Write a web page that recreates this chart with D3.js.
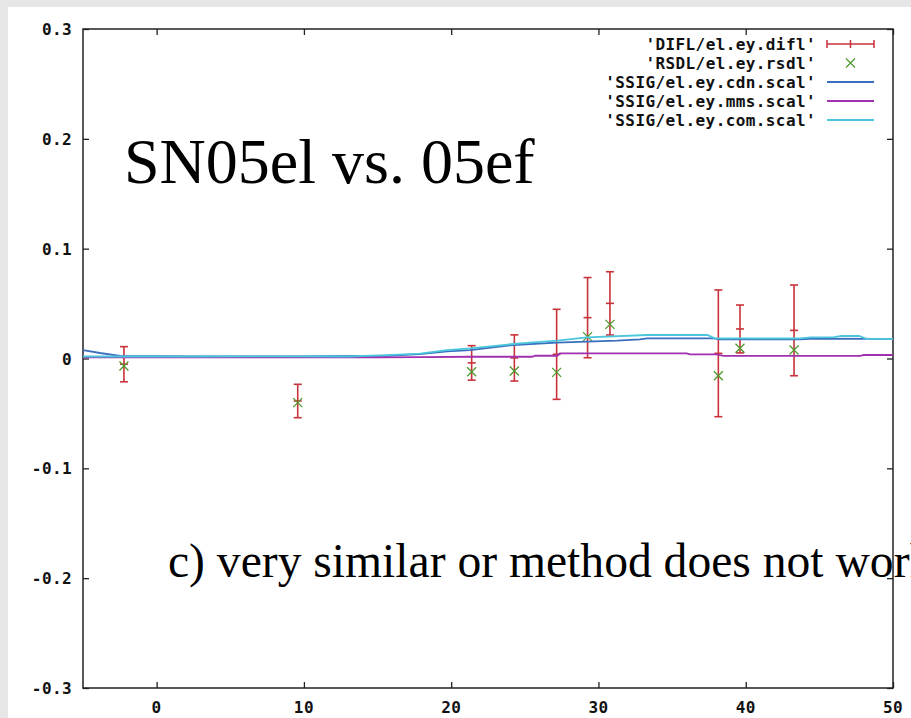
<!DOCTYPE html>
<html>
<head>
<meta charset="utf-8">
<script src="https://cdn.jsdelivr.net/npm/d3@7"></script>
<style>
  html, body { margin: 0; padding: 0; background: #e6e6e6; overflow: hidden; }
  svg { display: block; }
  .mono { font-family: "DejaVu Sans Mono", "Liberation Mono", monospace; font-weight: bold; font-size: 16px; letter-spacing: 0.4px; fill: #111; }
  .serif { font-family: "Liberation Serif", "DejaVu Serif", serif; fill: #000; }
</style>
</head>
<body>
<svg id="chart" width="911" height="718"></svg>
<script>
// Axis ticks
const xTicks = [0, 10, 20, 30, 40, 50];
const yTicks = [-0.3, -0.2, -0.1, 0, 0.1, 0.2, 0.3];

// DIFL: values with symmetric error half-widths
const diflX = [-2.22, 9.58, 21.39, 24.29, 27.16, 29.26, 30.78, 38.14, 39.61, 43.28];
const diflY = [-0.0052, -0.0387, -0.0040, 0.0005, 0.0038, 0.0372, 0.0502, 0.0047, 0.0269, 0.0256];
const diflErr = [0.0160, 0.0152, 0.0157, 0.0210, 0.0410, 0.0365, 0.0288, 0.0577, 0.0218, 0.0413];

// RSDL points
const rsdlX = diflX;
const rsdlY = [-0.0068, -0.0402, -0.0120, -0.0114, -0.0126, 0.0199, 0.0311, -0.0157, 0.0093, 0.0077];

// SSIG curves
const cdnX = [-5, -3.85, -2.49, 2.94, 9.73, 15.64, 17.88, 19.72, 21.28, 24.2, 27.19, 29.22, 31.26, 32.82, 33.3, 37.78, 38.25, 43.69, 44.37, 50];
const cdnY = [0.0077, 0.0050, 0.0023, 0.0018, 0.0018, 0.0025, 0.0040, 0.0065, 0.0077, 0.0123, 0.0144, 0.0153, 0.0162, 0.0175, 0.0184, 0.0184, 0.0175, 0.0175, 0.0180, 0.0178];

const mmsX = [-5, 15, 18, 21.28, 25.5, 25.7, 27.2, 27.4, 36.0, 36.2, 38.0, 38.5, 47.8, 48.0, 50];
const mmsY = [0.0010, 0.0010, 0.0013, 0.0016, 0.0016, 0.0025, 0.0025, 0.0047, 0.0047, 0.0038, 0.0038, 0.0023, 0.0023, 0.0032, 0.0032];

const comX = [-5, 2.94, 8.4, 13, 15.64, 17.88, 19.72, 21.28, 24.2, 25.36, 27.19, 29.22, 33.3, 37.4, 37.9, 43.69, 44.4, 46.0, 46.5, 47.7, 48.2, 50];
const comY = [0.0018, 0.0018, 0.0020, 0.0018, 0.0030, 0.0045, 0.0077, 0.0093, 0.0132, 0.0144, 0.0162, 0.0193, 0.0214, 0.0214, 0.0184, 0.0184, 0.0193, 0.0195, 0.0205, 0.0205, 0.0178, 0.0178];

const legendLabels = ["'DIFL/el.ey.difl'", "'RSDL/el.ey.rsdl'", "'SSIG/el.ey.cdn.scal'", "'SSIG/el.ey.mms.scal'", "'SSIG/el.ey.com.scal'"];
const colors = { difl: "#c8323a", rsdl: "#4e9a2e", cdn: "#3a6fbe", mms: "#a030b0", com: "#4cc6dc" };

const svg = d3.select("#chart");
const W = 911, H = 718;
const plot = { left: 83, right: 893, top: 29, bottom: 688 };

// page frame
svg.append("rect").attr("x", 8).attr("y", 7).attr("width", W - 8).attr("height", H - 7).attr("fill", "#fff");

const x = d3.scaleLinear().domain([-5, 50]).range([plot.left, plot.right]);
const y = d3.scaleLinear().domain([-0.3, 0.3]).range([plot.bottom, plot.top]);

svg.append("clipPath").attr("id", "plotclip").append("rect")
  .attr("x", plot.left).attr("y", plot.top)
  .attr("width", plot.right - plot.left).attr("height", plot.bottom - plot.top);

// inward ticks on all four sides
const tl = 6;
const axisStyle = g => {
  g.select(".domain").remove();
  g.selectAll(".tick line").attr("stroke", "#222").attr("stroke-width", 1.3);
  g.selectAll(".tick text").remove();
};
svg.append("g").attr("transform", `translate(0,${plot.bottom})`)
  .call(d3.axisBottom(x).tickValues(xTicks).tickSizeInner(-tl).tickSizeOuter(0)).call(axisStyle);
svg.append("g").attr("transform", `translate(0,${plot.top})`)
  .call(d3.axisTop(x).tickValues(xTicks).tickSizeInner(-tl).tickSizeOuter(0)).call(axisStyle);
svg.append("g").attr("transform", `translate(${plot.left},0)`)
  .call(d3.axisLeft(y).tickValues(yTicks).tickSizeInner(-tl).tickSizeOuter(0)).call(axisStyle);
svg.append("g").attr("transform", `translate(${plot.right},0)`)
  .call(d3.axisRight(y).tickValues(yTicks).tickSizeInner(-tl).tickSizeOuter(0)).call(axisStyle);

// tick labels (plain number formatting with ASCII minus)
const plain = d => String(+d.toFixed(1));
svg.selectAll("text.xl").data(xTicks).enter().append("text")
  .attr("class", "mono xl").attr("x", d => x(d)).attr("y", plot.bottom + 25)
  .attr("text-anchor", "middle").text(plain);
svg.selectAll("text.yl").data(yTicks).enter().append("text")
  .attr("class", "mono yl").attr("x", plot.left - 11).attr("y", d => y(d) + 6)
  .attr("text-anchor", "end").text(plain);

// border
svg.append("rect").attr("x", plot.left).attr("y", plot.top)
  .attr("width", plot.right - plot.left).attr("height", plot.bottom - plot.top)
  .attr("fill", "none").attr("stroke", "#222").attr("stroke-width", 1.5);

const g = svg.append("g").attr("clip-path", "url(#plotclip)");

// error bars
const cap = 4;
const eb = g.append("g").attr("stroke", colors.difl).attr("stroke-width", 1.6).attr("fill", "none");
diflX.forEach((xv, i) => {
  const cx = x(xv), y0 = y(diflY[i] - diflErr[i]), y1 = y(diflY[i] + diflErr[i]), yc = y(diflY[i]);
  eb.append("line").attr("x1", cx).attr("x2", cx).attr("y1", y0).attr("y2", y1);
  eb.append("line").attr("x1", cx - cap).attr("x2", cx + cap).attr("y1", y0).attr("y2", y0);
  eb.append("line").attr("x1", cx - cap).attr("x2", cx + cap).attr("y1", y1).attr("y2", y1);
  eb.append("line").attr("x1", cx - cap).attr("x2", cx + cap).attr("y1", yc).attr("y2", yc);
});

// cross markers
const xm = 4.5;
const crossPath = (cx, cy) => `M${cx - xm},${cy - xm}L${cx + xm},${cy + xm}M${cx - xm},${cy + xm}L${cx + xm},${cy - xm}`;
g.append("g").selectAll("path").data(rsdlX.map((v, i) => [v, rsdlY[i]])).enter().append("path")
  .attr("d", d => crossPath(x(d[0]), y(d[1])))
  .attr("stroke", colors.rsdl).attr("stroke-width", 1.3).attr("fill", "none");

// curves
const line = d3.line().x(d => x(d[0])).y(d => y(d[1]));
const curves = [
  [cdnX, cdnY, colors.cdn],
  [mmsX, mmsY, colors.mms],
  [comX, comY, colors.com]
];
curves.forEach(([xs, ys, c]) => {
  g.append("path").datum(xs.map((v, i) => [v, ys[i]]))
    .attr("d", line).attr("fill", "none").attr("stroke", c).attr("stroke-width", 1.8);
});

// legend
const lgTextX = 816, lgX0 = 827, lgX1 = 874, lgY0 = 44, lgDy = 19;
legendLabels.forEach((lab, i) => {
  const ly = lgY0 + i * lgDy;
  svg.append("text").attr("class", "mono").attr("x", lgTextX).attr("y", ly + 6)
    .attr("text-anchor", "end").text(lab);
  const mid = (lgX0 + lgX1) / 2;
  if (i === 0) {
    const lg = svg.append("g").attr("stroke", colors.difl).attr("stroke-width", 1.5);
    lg.append("line").attr("x1", lgX0).attr("x2", lgX1).attr("y1", ly).attr("y2", ly);
    [lgX0, mid, lgX1].forEach(px => lg.append("line").attr("x1", px).attr("x2", px).attr("y1", ly - 4).attr("y2", ly + 4));
  } else if (i === 1) {
    svg.append("path").attr("d", crossPath(mid, ly)).attr("stroke", colors.rsdl)
      .attr("stroke-width", 1.2).attr("fill", "none");
  } else {
    svg.append("line").attr("x1", lgX0).attr("x2", lgX1).attr("y1", ly).attr("y2", ly)
      .attr("stroke", [colors.cdn, colors.mms, colors.com][i - 2]).attr("stroke-width", 1.8);
  }
});

// annotations
svg.append("text").attr("class", "serif").attr("x", 124).attr("y", 183)
  .attr("font-size", 64).text("SN05el vs. 05ef");
svg.append("text").attr("class", "serif").attr("x", 168).attr("y", 577)
  .attr("font-size", 47.6).text("c) very similar or method does not work");
</script>
</body>
</html>
